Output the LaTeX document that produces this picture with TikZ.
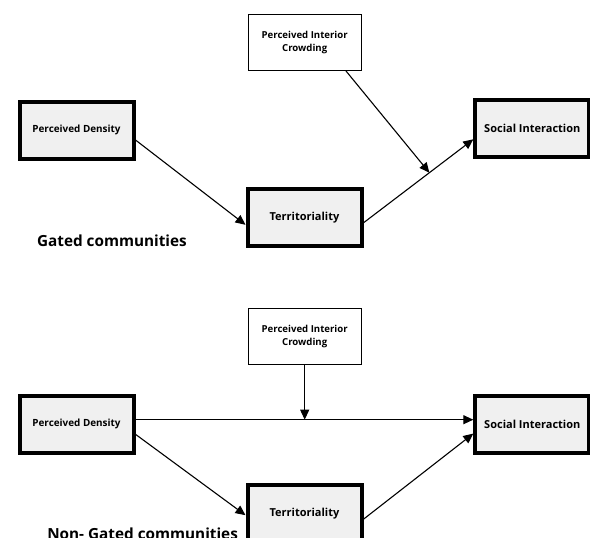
\documentclass[tikz,border=0pt]{standalone}
\usepackage{fontspec}
\usepackage{tikz}
\usetikzlibrary{arrows.meta,positioning,calc}
\newfontfamily\diagfont{Open Sans}
\definecolor{boxfill}{HTML}{F0F0F0}

\begin{document}
\begin{tikzpicture}[
  x=1pt, y=-1pt,
  box/.style={draw=black, line width=4pt, fill=boxfill, minimum width=114pt,
              minimum height=57pt, align=center,
              font=\diagfont\bfseries\fontsize{9.9}{13}\selectfont},
  bigtext/.style={font=\diagfont\bfseries\fontsize{11}{13}\selectfont},
  modbox/.style={draw=black, line width=1.2pt, fill=white, minimum width=112.8pt,
                 minimum height=55.8pt, align=center,
                 font=\diagfont\bfseries\fontsize{9.6}{13}\selectfont},
  group/.style={anchor=base west, inner sep=0pt,
                font=\diagfont\bfseries\fontsize{15.3}{19}\selectfont},
  >={Triangle[length=10pt,width=9pt]}, line width=1.1pt]
\path[use as bounding box] (0,0) rectangle (590,538);
\clip (0,0) rectangle (590,538);

% gated communities
\node[modbox] (crowd) at (304.7,42.5) {Perceived Interior\\Crowding};
\node[box] (dens) at (76.5,130) {Perceived Density};
\node[box, bigtext] (soc) at (532.3,128.8) {Social Interaction};
\node[box, bigtext] (terr) at (304.5,217.8) {Territoriality};
\node[group] (gated) at (36.5,246) {Gated communities};
\draw[->] ([yshift=-10pt]dens.east) -- ([yshift=-7pt]terr.west);
\draw[->] ([yshift=-5pt]terr.east) -- coordinate[pos=0.6] (gmid) ([yshift=-10.5pt]soc.west);
\draw[->] ([xshift=41.3pt]crowd.south) -- (gmid);

% non-gated communities
\node[modbox] (ncrowd) at (304.7,336.7) {Perceived Interior\\Crowding};
\node[box] (ndens) at (76.5,424.3) {Perceived Density};
\node[box, bigtext] (nsoc) at (532.3,424.3) {Social Interaction};
\node[box, bigtext] (nterr) at (304.5,513.2) {Territoriality};
\node[group] (nongated) at (46.7,539.5) {Non- Gated communities};
\draw[->] ([yshift=4.6pt]ndens.east) -- coordinate (nmid) ([yshift=4.6pt]nsoc.west);
\draw[->] (ncrowd.south) -- (ncrowd.south |- nmid);
\draw[->] ([yshift=-10pt]ndens.east) -- ([yshift=-2pt]nterr.west);
\draw[->] ([yshift=-6pt]nterr.east) -- ([yshift=-9.3pt]nsoc.west);
\end{tikzpicture}
\end{document}
